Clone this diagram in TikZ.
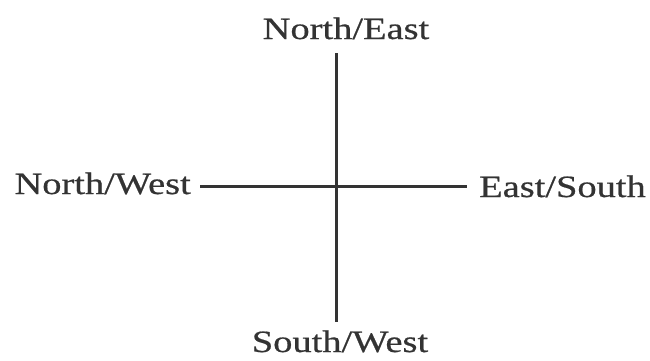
\documentclass[tikz,border=0pt]{standalone}
\usepackage{fontspec}
\setmainfont{Liberation Serif}[FakeStretch=1.24,FakeBold=0.6]
\begin{document}
\begin{tikzpicture}[x=1pt,y=-1pt,
  lbl/.style={inner sep=0pt, text=black!80, font=\fontsize{31}{36}\selectfont},
  axis/.style={draw=black!80, line width=3pt}]
\useasboundingbox (0,0) rectangle (650,360);
\node[lbl, anchor=base] (ne) at (346,39) {North/East};
\node[lbl, anchor=base east] (nw) at (191,194) {North/West};
\node[lbl, anchor=base west] (es) at (479,197) {East/South};
\node[lbl, anchor=base] (sw) at (340,352) {South/West};
\coordinate (top) at (336,53);
\coordinate (bot) at (336,322);
\coordinate (lft) at (200,186);
\coordinate (rgt) at (467,186);
\draw[axis] (top) -- (bot);
\draw[axis] (lft) -- (rgt);
\end{tikzpicture}
\end{document}
